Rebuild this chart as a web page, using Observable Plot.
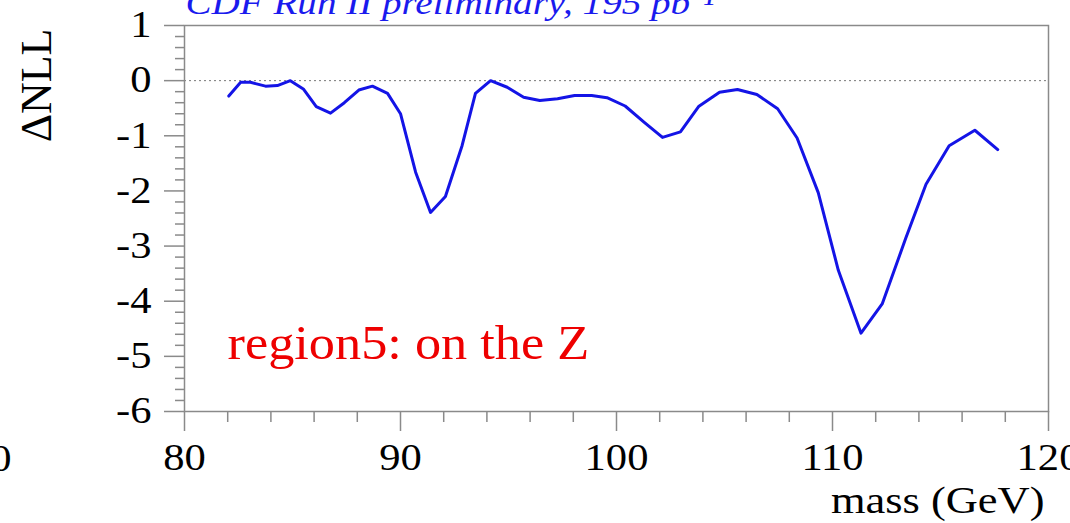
<!DOCTYPE html>
<html><head><meta charset="utf-8">
<script src="https://cdn.jsdelivr.net/npm/d3@7"></script>
<script src="https://cdn.jsdelivr.net/npm/@observablehq/plot@0.6"></script>
<style>html,body{margin:0;padding:0;background:#fff;overflow:hidden} #chart svg{display:block}</style>
</head><body><div id="chart"></div>
<script>
// ---- data ----
const mass = [82.05,82.6,83.05,83.75,84.3,84.9,85.5,86.1,86.76,87.4,88.07,88.7,89.4,90.0,90.7,91.39,92.08,92.85,93.47,94.17,94.94,95.7,96.45,97.27,98.06,98.85,99.56,100.4,101.3,102.13,102.96,103.8,104.77,105.6,106.5,107.46,108.36,109.34,110.27,111.32,112.3,113.39,114.33,115.4,116.59,117.65];
const dnll = [-0.28,-0.03,-0.03,-0.10,-0.09,0.0,-0.15,-0.47,-0.59,-0.40,-0.17,-0.10,-0.23,-0.60,-1.66,-2.39,-2.10,-1.18,-0.23,0.0,-0.12,-0.30,-0.36,-0.33,-0.27,-0.27,-0.31,-0.46,-0.76,-1.03,-0.93,-0.47,-0.21,-0.16,-0.25,-0.51,-1.04,-2.03,-3.44,-4.58,-4.05,-2.86,-1.88,-1.18,-0.90,-1.25];
const xMajorTicks = [80, 90, 100, 110, 120];
const yMajorTicks = [1, 0, -1, -2, -3, -4, -5, -6];
const titleText = ["CDF Run II preliminary, 195 pb⁻¹"];
const regionLabel = ["region5: on the Z"];
const xTitle = ["mass (GeV)"];
const yTitle = ["ΔNLL"];
const neighbourLabel = ["120"];

const points = mass.map((m, i) => ({mass: m, dnll: dnll[i]}));
const xMinorTicks = d3.range(80, 121, 2).filter(v => v % 10 !== 0);
const yMinorTicks = d3.range(-30, 6).map(i => i / 5).filter(v => !Number.isInteger(v));

const grey = "#8a8a8a";
const chart = Plot.plot({
  width: 1070, height: 523,
  marginLeft: 184, marginRight: 22, marginTop: 25, marginBottom: 112,
  style: {fontFamily: "'Liberation Serif', 'Times New Roman', serif", background: "white", color: "black", overflow: "hidden"},
  x: {domain: [80, 120], label: null, axis: null},
  y: {domain: [-6, 1], label: null, axis: null},
  marks: [
    Plot.ruleY([0], {stroke: "#777", strokeWidth: 1, strokeDasharray: "2,3"}),
    Plot.line(points, {x: "mass", y: "dnll", stroke: "#1414e6", strokeWidth: 3}),
    Plot.axisY(yMinorTicks, {tickSize: 9, stroke: grey, strokeWidth: 1.5, fill: "none", label: null}),
    Plot.axisY(yMajorTicks, {tickSize: 20, tickPadding: 13, stroke: grey, strokeWidth: 1.5, fill: "black", fontSize: 37, label: null, tickFormat: d => String(d)}),
    Plot.axisX(xMinorTicks, {tickSize: 11, stroke: grey, strokeWidth: 1.5, fill: "none", label: null}),
    Plot.axisX(xMajorTicks, {tickSize: 20, tickPadding: 12, stroke: grey, strokeWidth: 1.5, fill: "black", fontSize: 37, label: null, tickFormat: d => String(d)}),
    Plot.frame({stroke: grey, strokeWidth: 1.5}),
    Plot.text(titleText, {frameAnchor: "top-left", textAnchor: "start", lineAnchor: "bottom", dx: 1, dy: -12, fill: "#1a1aee", fontSize: 34, fontStyle: "italic"}),
    Plot.text(regionLabel, {frameAnchor: "bottom-left", textAnchor: "start", lineAnchor: "bottom", dx: 43, dy: -53, fill: "#ee0000", fontSize: 48}),
    Plot.text(xTitle, {frameAnchor: "bottom-right", textAnchor: "end", lineAnchor: "bottom", dx: -4, dy: 101, fill: "black", fontSize: 38}),
    Plot.text(yTitle, {frameAnchor: "top-left", textAnchor: "end", lineAnchor: "bottom", rotate: -90, dx: -134, dy: 3, fill: "black", fontSize: 44}),
    Plot.text(neighbourLabel, {frameAnchor: "bottom-left", textAnchor: "end", lineAnchor: "bottom", dx: -173, dy: 59, fill: "black", fontSize: 37})
  ]
});
document.getElementById("chart").appendChild(chart);

// the reference's lettering is horizontally widened; widen glyphs to match
chart.querySelectorAll("text").forEach(el => {
  const t = el.textContent;
  if (t === "ΔNLL") return;
  const k = t === "region5: on the Z" ? 1.09 : t === "mass (GeV)" ? 1.17 : 1.15;
  const L = el.getComputedTextLength();
  if (L > 0) {
    el.setAttribute("textLength", (L * k).toFixed(2));
    el.setAttribute("lengthAdjust", "spacingAndGlyphs");
  }
});
</script>
</body></html>
